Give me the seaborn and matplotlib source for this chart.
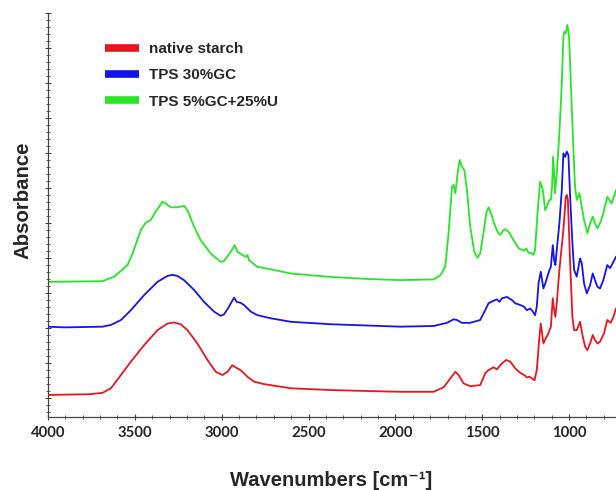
import numpy as np
import pandas as pd
import matplotlib
matplotlib.use("Agg")
import matplotlib.pyplot as plt
from matplotlib.lines import Line2D
from matplotlib.ticker import MultipleLocator
import seaborn as sns

# ---- data ----
samples = ["native starch", "TPS 30%GC", "TPS 5%GC+25%U"]
colors = ["#e8161e", "#1414e6", "#26e626"]

red_wn = [4000, 3763, 3686, 3638, 3580, 3523, 3447, 3370, 3312, 3274, 3236, 3197, 3140, 3082, 3034, 2996, 2967, 2939, 2925, 2891, 2852, 2814, 2757, 2603, 2374, 2144, 1971, 1780, 1722, 1684, 1655, 1636, 1608, 1569, 1512, 1483, 1464, 1435, 1416, 1387, 1362, 1339, 1310, 1282, 1259, 1243, 1228, 1214, 1199, 1186, 1171, 1163, 1148, 1134, 1119, 1105, 1094, 1086, 1079, 1071, 1056, 1033, 1019, 1013, 1007, 994, 981, 971, 956, 937, 921, 908, 895, 879, 864, 851, 837, 822, 799, 780, 761, 745, 730]
red_abs = [-0.091, -0.089, -0.085, -0.072, -0.034, 0.004, 0.051, 0.094, 0.113, 0.116, 0.111, 0.094, 0.056, 0.009, -0.025, -0.034, -0.025, -0.006, -0.011, -0.020, -0.039, -0.053, -0.060, -0.072, -0.077, -0.080, -0.082, -0.082, -0.069, -0.044, -0.025, -0.034, -0.058, -0.066, -0.063, -0.029, -0.020, -0.012, -0.018, -0.001, 0.009, 0.004, -0.015, -0.028, -0.034, -0.041, -0.039, -0.044, -0.049, -0.020, 0.075, 0.113, 0.056, 0.071, 0.085, 0.104, 0.185, 0.151, 0.132, 0.171, 0.266, 0.380, 0.475, 0.480, 0.466, 0.285, 0.132, 0.094, 0.094, 0.118, 0.075, 0.047, 0.037, 0.056, 0.080, 0.066, 0.056, 0.061, 0.085, 0.123, 0.115, 0.132, 0.156]

blue_wn = [4000, 3906, 3686, 3638, 3580, 3523, 3447, 3370, 3312, 3283, 3255, 3217, 3159, 3102, 3044, 3006, 2987, 2958, 2929, 2914, 2891, 2872, 2833, 2795, 2718, 2603, 2374, 2144, 1971, 1780, 1703, 1665, 1645, 1617, 1569, 1512, 1483, 1464, 1435, 1416, 1401, 1387, 1358, 1329, 1310, 1282, 1259, 1243, 1224, 1209, 1196, 1186, 1176, 1163, 1148, 1134, 1125, 1113, 1105, 1094, 1086, 1079, 1071, 1056, 1042, 1033, 1023, 1013, 1004, 994, 981, 971, 956, 937, 927, 914, 898, 879, 864, 851, 837, 822, 803, 780, 764, 745, 730]
blue_abs = [0.104, 0.102, 0.104, 0.109, 0.123, 0.151, 0.194, 0.232, 0.249, 0.252, 0.249, 0.237, 0.209, 0.175, 0.147, 0.135, 0.139, 0.161, 0.187, 0.175, 0.172, 0.166, 0.147, 0.137, 0.128, 0.118, 0.111, 0.107, 0.104, 0.106, 0.115, 0.125, 0.123, 0.115, 0.115, 0.123, 0.151, 0.171, 0.178, 0.182, 0.175, 0.185, 0.189, 0.180, 0.171, 0.166, 0.161, 0.151, 0.156, 0.147, 0.137, 0.161, 0.228, 0.261, 0.213, 0.232, 0.247, 0.266, 0.275, 0.337, 0.294, 0.280, 0.323, 0.399, 0.494, 0.599, 0.589, 0.604, 0.594, 0.475, 0.342, 0.266, 0.247, 0.299, 0.285, 0.228, 0.199, 0.223, 0.256, 0.237, 0.218, 0.213, 0.237, 0.280, 0.271, 0.289, 0.304]

green_wn = [4000, 3686, 3619, 3542, 3513, 3466, 3437, 3408, 3380, 3341, 3322, 3293, 3255, 3217, 3197, 3159, 3121, 3063, 3006, 2987, 2948, 2925, 2910, 2872, 2856, 2852, 2843, 2795, 2718, 2603, 2374, 2144, 1971, 1780, 1741, 1713, 1694, 1674, 1665, 1655, 1642, 1630, 1617, 1603, 1588, 1569, 1546, 1527, 1512, 1493, 1477, 1464, 1450, 1431, 1412, 1397, 1378, 1362, 1343, 1320, 1291, 1259, 1247, 1234, 1214, 1205, 1196, 1182, 1167, 1151, 1138, 1125, 1113, 1105, 1098, 1092, 1086, 1081, 1071, 1056, 1042, 1033, 1027, 1019, 1010, 1000, 990, 975, 966, 956, 941, 927, 914, 895, 879, 864, 851, 837, 822, 803, 780, 768, 755, 730]
green_abs = [0.232, 0.234, 0.247, 0.280, 0.313, 0.380, 0.401, 0.409, 0.432, 0.461, 0.456, 0.445, 0.445, 0.449, 0.437, 0.389, 0.351, 0.313, 0.289, 0.291, 0.318, 0.337, 0.318, 0.306, 0.304, 0.309, 0.294, 0.275, 0.268, 0.256, 0.246, 0.240, 0.237, 0.239, 0.251, 0.275, 0.371, 0.504, 0.509, 0.485, 0.542, 0.580, 0.561, 0.551, 0.494, 0.389, 0.318, 0.301, 0.313, 0.371, 0.428, 0.445, 0.428, 0.399, 0.375, 0.366, 0.380, 0.382, 0.371, 0.351, 0.328, 0.321, 0.328, 0.315, 0.313, 0.309, 0.323, 0.428, 0.518, 0.494, 0.437, 0.451, 0.466, 0.466, 0.504, 0.589, 0.542, 0.485, 0.542, 0.656, 0.799, 0.932, 0.947, 0.942, 0.966, 0.932, 0.799, 0.609, 0.504, 0.466, 0.485, 0.447, 0.409, 0.371, 0.399, 0.418, 0.399, 0.385, 0.399, 0.428, 0.475, 0.466, 0.456, 0.494]

x_ticks = [4000, 3500, 3000, 2500, 2000, 1500, 1000]

# ---- build table ----
df = pd.concat([
    pd.DataFrame({"wn": red_wn, "abs": red_abs, "sample": samples[0]}),
    pd.DataFrame({"wn": blue_wn, "abs": blue_abs, "sample": samples[1]}),
    pd.DataFrame({"wn": green_wn, "abs": green_abs, "sample": samples[2]}),
], ignore_index=True)

sns.set_style("white")
plt.rcParams["font.family"] = ["Liberation Sans", "DejaVu Sans"]

fig = plt.figure(figsize=(6.16, 4.90), dpi=100)
ax = fig.add_axes([48 / 616, 1 - 417 / 490, 568 / 616, 404 / 490])

sns.lineplot(data=df, x="wn", y="abs", hue="sample", hue_order=samples,
             palette=dict(zip(samples, colors)), sort=False, estimator=None,
             linewidth=1.3, ax=ax, legend=False)

ax.set_xlim(4000, 730)
ax.set_ylim(-0.154, 1.0)

ax.set_xticks(x_ticks)
ax.set_xticklabels([str(t) for t in x_ticks])
ax.xaxis.set_minor_locator(MultipleLocator(100))
ax.yaxis.set_major_locator(MultipleLocator(0.1))
ax.yaxis.set_minor_locator(MultipleLocator(0.02))
ax.set_yticklabels([])
ax.tick_params(axis="both", which="both", bottom=True, left=True, top=False, right=False)
ax.tick_params(axis="both", which="major", direction="inout", length=5, width=0.8, color="#444444")
ax.tick_params(axis="both", which="minor", direction="inout", length=3, width=0.6, color="#444444")
ax.tick_params(axis="x", which="major", pad=4)
for lab in ax.get_xticklabels():
    lab.set_fontfamily(["Lato", "DejaVu Sans"])
    lab.set_fontweight("bold")
    lab.set_fontsize(10.7)

for s in ["top", "right"]:
    ax.spines[s].set_visible(False)
for s in ["left", "bottom"]:
    ax.spines[s].set_color("#444444")
    ax.spines[s].set_linewidth(0.9)

ax.set_xlabel("Wavenumbers [cm⁻¹]", fontsize=14.5, fontweight="bold")
ax.set_ylabel("Absorbance", fontsize=14.7, fontweight="bold")
ax.xaxis.set_label_coords(0.498, -0.134)
ax.yaxis.set_label_coords(-0.028, 0.537)

handles = [Line2D([], [], color=c, lw=5.5, solid_capstyle="butt") for c in colors]
leg = ax.legend(handles, samples, loc="upper left", bbox_to_anchor=(0.100, 0.928),
                frameon=False, borderpad=0, borderaxespad=0, handlelength=2.25,
                handletextpad=0.65, labelspacing=0.8,
                prop={"weight": "bold", "size": 11})

fig.savefig("out.png", dpi=100)
